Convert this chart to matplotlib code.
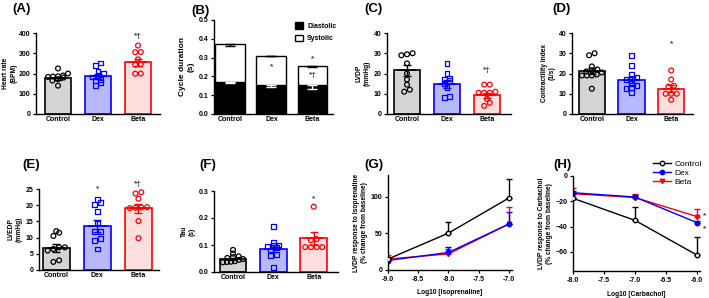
import matplotlib.pyplot as plt
from matplotlib.lines import Line2D
import numpy as np

plt.rcParams['font.family'] = ['Liberation Sans', 'DejaVu Sans']
plt.rcParams['font.weight'] = 'bold'
plt.rcParams['axes.linewidth'] = 1.0

groupes = ['Control', 'Dex', 'Beta']
bord = ['#000000', '#0000ff', '#ff0000']
fond = ['#d4d4d4', '#b8b8ff', '#ffdede']
marq = ['o', 's', 'o']

# (A) heart rate
hr_pts = [[225, 200, 190, 186, 185, 183, 180, 172, 165, 140],
          [252, 240, 212, 200, 186, 183, 170, 165, 156, 140],
          [338, 306, 305, 270, 245, 243, 200, 199]]
hr_moy = [176, 187, 255]
hr_sem = [8, 13, 17]

# (B) cycle duration
diast = [0.172, 0.152, 0.155]
diast_err = [0.008, 0.009, 0.022]
total = [0.370, 0.311, 0.256]
total_err = [0.006, 0.005, 0.004]

# (C) LVDP
lvdp_pts = [[30, 29, 29.5, 25, 20, 17, 14.5, 12, 11],
            [25, 20, 17.5, 17, 16.5, 15, 13, 8.5, 8],
            [14.5, 14.5, 11, 10.5, 10.5, 10.5, 7.5, 5.5, 4]]
lvdp_moy = [21.5, 14.8, 9.3]
lvdp_sem = [2.7, 1.8, 1.3]

# (D) contractility index
ci_pts = [[30, 29, 23.5, 22, 21.5, 21, 20.5, 19.5, 19, 19, 19, 12.5],
          [29, 24, 19.5, 18, 17.5, 17, 15, 14, 13, 12.5, 10.5],
          [21.5, 17, 14, 13.5, 10, 10, 10, 7]]
ci_moy = [21.2, 16.8, 12.5]
ci_sem = [1.3, 1.4, 1.6]

# (E) LVEDP
edp_pts = [[12, 11.5, 10.5, 7, 7, 6.5, 6, 3, 2.5],
           [21.7, 20.9, 20.1, 18.1, 14.5, 11.9, 11.9, 9.6, 9.0, 6.5],
           [24, 23.6, 22, 19.4, 19.3, 19.2, 19.1, 15.1, 9.8]]
edp_moy = [6.7, 13.5, 19.0]
edp_sem = [1.2, 1.8, 1.4]

# (F) Tau
tau_pts = [[0.082, 0.068, 0.058, 0.055, 0.052, 0.048, 0.045, 0.04, 0.038, 0.037, 0.036],
           [0.168, 0.11, 0.1, 0.1, 0.095, 0.09, 0.08, 0.065, 0.062, 0.017],
           [0.242, 0.122, 0.118, 0.092, 0.092, 0.092, 0.092]]
tau_moy = [0.048, 0.087, 0.125]
tau_sem = [0.005, 0.013, 0.025]

# (G) isoprenaline
iso_x = [-9.0, -8.0, -7.0]
iso_moy = [[15, 50.5, 98.6], [13, 24, 63], [15, 22, 63]]
iso_err = [[0, 15, 26], [2, 8, 16], [5, 7, 23]]

# (H) carbachol
cch_x = [-8.0, -7.0, -6.0]
cch_moy = [[-17.6, -35, -62.4], [-13.2, -16.6, -36.8], [-14, -17, -32]]
cch_err = [[0, 10.8, 14.2], [1, 1.5, 1], [4.3, 2.5, 6.2]]

W, H = 709, 298
fig = plt.figure(figsize=(W / 100, H / 100), dpi=100)


def axe(g, h, d, b):
    ax = fig.add_axes([g / W, 1 - b / H, (d - g) / W, (b - h) / H])
    ax.spines['top'].set_visible(False)
    ax.spines['right'].set_visible(False)
    ax.tick_params(labelsize=5, length=2.5, width=0.9, pad=1.5)
    return ax


def swarm(vals, seuil, pas):
    vals = np.asarray(vals, dtype=float)
    ordre = np.argsort(vals)
    decal = np.zeros(len(vals))
    paquets = []
    for i in ordre:
        if paquets and vals[i] - vals[paquets[-1][0]] < seuil:
            paquets[-1].append(i)
        else:
            paquets.append([i])
    for p in paquets:
        k = len(p)
        st = pas if k < 2 else min(pas, 0.5 / (k - 1))
        decal[p] = (np.arange(k) - (k - 1) / 2) * st
    return decal


def barres(ax, pts, moy, sem, ymax, pas_y, xlim, ylabel):
    x = np.arange(3)
    for i in range(3):
        ax.bar(x[i], moy[i], width=0.66, color=fond[i], edgecolor=bord[i],
               linewidth=1.2, zorder=1)
        dx = swarm(pts[i], ymax * 0.045, 0.14)
        ax.scatter(x[i] + dx, pts[i], s=12, marker=marq[i], facecolor='none',
                   edgecolor=bord[i], linewidths=0.9, zorder=3)
        ax.errorbar(x[i], moy[i], yerr=sem[i], color=bord[i], capsize=3,
                    elinewidth=1.0, capthick=1.0, zorder=4)
        ax.plot([x[i] - 0.2, x[i] + 0.2], [moy[i], moy[i]], color=bord[i],
                lw=1.2, zorder=4)
    ax.set_xlim(*xlim)
    ax.set_ylim(0, ymax)
    ax.set_yticks(np.arange(0, ymax + pas_y / 2, pas_y))
    ax.set_xticks(x)
    ax.set_xticklabels(groupes, fontweight='bold')
    ax.tick_params(axis='x', length=0)
    ax.set_ylabel(ylabel, fontsize=4.8, fontweight='bold', labelpad=2)


def titre(x, y, t):
    fig.text(x / W, 1 - y / H, t, fontsize=9.5, fontweight='bold',
             va='center', ha='left')


# (A)
ax = axe(36, 33, 160, 114)
barres(ax, hr_pts, hr_moy, hr_sem, 400, 100, (-0.55, 2.55), 'Heart rate\n(BPM)')
ax.yaxis.labelpad = 1
ax.text(2, 385, '*†', ha='center', va='center', fontsize=6, color='#444444')
titre(12, 9, '(A)')

# (B)
ax = axe(214, 20, 333, 114)
xb = np.arange(3)
syst = np.array(total) - np.array(diast)
ax.bar(xb, diast, width=0.73, color='black', edgecolor='black', lw=1.0, label='Diastolic')
ax.bar(xb, syst, bottom=diast, width=0.73, color='white', edgecolor='black', lw=1.0,
       label='Systolic')
ax.errorbar(xb, diast, yerr=[diast_err, np.zeros(3)], fmt='none', ecolor='white',
            capsize=3.5, elinewidth=1.0, capthick=1.0)
ax.errorbar(xb, total, yerr=[total_err, np.zeros(3)], fmt='none', ecolor='black',
            capsize=3.5, elinewidth=1.0, capthick=1.0)
ax.set_xlim(-0.4, 2.5)
ax.set_ylim(0, 0.5)
ax.set_yticks([0.0, 0.1, 0.2, 0.3, 0.4, 0.5])
ax.set_xticks(xb)
ax.set_xticklabels(groupes, fontweight='bold')
ax.tick_params(axis='x', length=0)
ax.set_ylabel('Cycle duration\n(s)', fontsize=6, fontweight='bold', labelpad=3)
ax.text(1, 0.252, '*', ha='center', va='center', fontsize=6, color='#444444')
ax.text(2, 0.293, '*', ha='center', va='center', fontsize=6, color='#444444')
ax.text(2, 0.205, '*†', ha='center', va='center', fontsize=6, color='#444444')
ax.legend(loc='upper right', bbox_to_anchor=(1.08, 1.04), frameon=False,
          handlelength=1.1, handleheight=1.0, handletextpad=0.6, labelspacing=0.7,
          prop={'weight': 'bold', 'size': 5})
titre(191, 11, '(B)')

# (C)
ax = axe(387, 33, 511, 114)
barres(ax, lvdp_pts, lvdp_moy, lvdp_sem, 40, 10, (-0.5, 2.6), 'LVDP\n(mmHg)')
ax.text(2, 21.5, '*†', ha='center', va='center', fontsize=6, color='#444444')
titre(364, 9, '(C)')

# (D)
ax = axe(572, 33, 693, 114)
barres(ax, ci_pts, ci_moy, ci_sem, 40, 10, (-0.5, 2.55), 'Contractility index\n(1/s)')
ax.text(2, 34.5, '*', ha='center', va='center', fontsize=6, color='#444444')
titre(552, 9, '(D)')

# (E)
ax = axe(39, 189, 159, 270)
barres(ax, edp_pts, edp_moy, edp_sem, 25, 5, (-0.42, 2.5), 'LVEDP\n(mmHg)')
ax.text(1, 25, '*', ha='center', va='center', fontsize=6, color='#444444')
ax.text(2, 26.5, '*†', ha='center', va='center', fontsize=6, color='#444444')
titre(22, 165, '(E)')

# (F)
ax = axe(214, 191, 338, 272)
barres(ax, tau_pts, tau_moy, tau_sem, 0.3, 0.1, (-0.47, 2.6), 'Tau\n(s)')
ax.set_yticklabels(['0.0', '0.1', '0.2', '0.3'])
ax.text(2, 0.272, '*', ha='center', va='center', fontsize=6, color='#444444')
titre(199, 165, '(F)')

# (G) et (H) courbes
styles = [dict(marker='o', mfc='white', mec='black'),
          dict(marker='o', mfc='#0000ff', mec='#0000ff'),
          dict(marker='v', mfc='#ff0000', mec='#ff0000')]

ax = axe(388, 175, 512, 270)
for i in range(3):
    ax.errorbar(iso_x, iso_moy[i], yerr=[np.zeros(3), iso_err[i]], color=bord[i],
                lw=1.0, ms=3.2, capsize=2.5, elinewidth=1.0, capthick=1.0,
                zorder=3 - i, **styles[i])
ax.set_xlim(-9.0, -6.95)
ax.set_ylim(0, 130)
ax.set_xticks([-9.0, -8.5, -8.0, -7.5, -7.0])
ax.set_xticklabels(['-9.0', '-8.5', '-8.0', '-7.5', '-7.0'])
ax.set_yticks([0, 50, 100])
ax.set_xlabel('Log10 [Isoprenaline]', fontsize=4.8, fontweight='bold', labelpad=5)
ax.set_ylabel('LVDP response to Isoprenaline\n(% change from baseline)', fontsize=4.8,
              fontweight='bold', labelpad=2)
titre(364, 165, '(G)')

ax = axe(573, 176, 700, 271)
for i in range(3):
    ax.errorbar(cch_x, cch_moy[i], yerr=[np.zeros(3), cch_err[i]], color=bord[i],
                lw=1.0, ms=3.2, capsize=2.5, elinewidth=1.0, capthick=1.0,
                zorder=3 - i, **styles[i])
ax.set_xlim(-8.0, -5.95)
ax.set_ylim(-75, 0)
ax.set_xticks([-8.0, -7.5, -7.0, -6.5, -6.0])
ax.set_xticklabels(['-8.0', '-7.5', '-7.0', '-6.5', '-6.0'])
ax.set_yticks([0, -20, -40, -60])
ax.set_xlabel('Log10 [Carbachol]', fontsize=4.8, fontweight='bold', labelpad=5)
ax.set_ylabel('LVDP response to Carbachol\n(% change from baseline)', fontsize=4.8,
              fontweight='bold', labelpad=2)
ax.text(-5.88, -31, '*', ha='center', va='center', fontsize=6, color='#444444')
ax.text(-5.88, -42, '*', ha='center', va='center', fontsize=6, color='#444444')
poignees = [Line2D([], [], color=bord[i], lw=1.0, ms=3.2, **styles[i]) for i in range(3)]
ax.legend(poignees, groupes, loc='upper left', bbox_to_anchor=(0.6, 1.2), frameon=False,
          prop={'weight': 'normal', 'size': 6}, handlelength=2.2, handletextpad=0.4,
          labelspacing=0.15, borderaxespad=0)
titre(553, 165, '(H)')

fig.savefig('out.png', dpi=100)
